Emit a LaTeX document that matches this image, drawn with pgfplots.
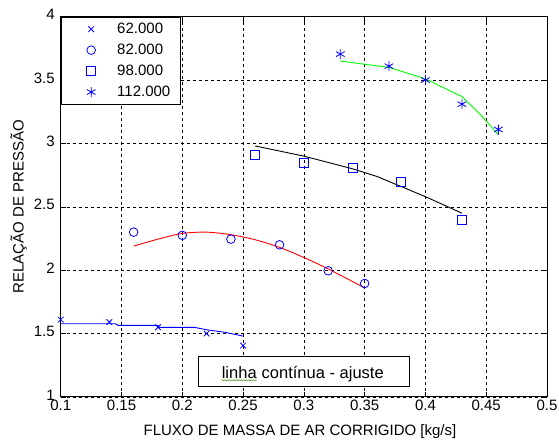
\documentclass[border=0pt]{standalone}
\usepackage{fontspec}
\setmainfont{Liberation Sans}
\usepackage{pgfplots}
\pgfplotsset{compat=1.18}
\usetikzlibrary{decorations.pathmorphing}
\definecolor{mblue}{RGB}{0,0,255}
\definecolor{mgreen}{RGB}{0,255,0}
\definecolor{mred}{RGB}{255,0,0}
\definecolor{squig}{RGB}{100,160,60}
\newcommand\fs{\fontsize{15bp}{17bp}\selectfont}
\begin{document}
\begin{tikzpicture}
\begin{axis}[
  scale only axis, width=486bp, height=380bp,
  xmin=0.1, xmax=0.5, ymin=1, ymax=4,
  xtick={0.1,0.15,0.2,0.25,0.3,0.35,0.4,0.45,0.5},
  xticklabels={0.1,0.15,0.2,0.25,0.3,0.35,0.4,0.45,0.5},
  ytick={1,1.5,2,2.5,3,3.5,4},
  yticklabels={1,1.5,2,2.5,3,3.5,4},
  tick align=inside, major tick length=5bp,
  tick style={black, line width=0.6bp},
  grid=major,
  major grid style={black, line width=0.6bp, dash pattern=on 3bp off 3bp},
  axis line style={line width=0.9bp},
  ticklabel style={font=\fs},
  yticklabel style={xshift=-2.5bp, yshift=2bp},
  /pgf/number format/assume math mode=true,
  xlabel={FLUXO DE MASSA DE AR CORRIGIDO [kg/s]},
  ylabel={RELAÇÃO DE PRESSÃO},
  label style={font=\fs},
  xlabel style={at={([yshift=-39bp]axis description cs:0.492,0)}, anchor=base},
  ylabel style={at={([xshift=-37bp]axis description cs:0,0.5)}, anchor=base},
  legend style={at={(0,1)}, anchor=north west, draw=black, line width=0.9bp,
    fill=white, font=\fs, inner xsep=10bp, inner ysep=6bp,
    row sep=9bp, column sep=6bp, nodes={inner sep=0pt}},
  legend cell align=left,
  legend image code/.code={\path[draw=none,fill=none] (0bp,0bp) -- (40bp,0bp);\draw[mark repeat=2,mark phase=2,#1] plot coordinates {(0bp,0bp)(20bp,0bp)(40bp,0bp)};},
]
% measured points
\addplot[only marks, mark=x, mblue, mark size=4bp, mark options={line width=0.8bp}]
  coordinates {(0.10,1.61) (0.14,1.59) (0.18,1.55) (0.22,1.50) (0.25,1.405)};
\addlegendentry{62.000}
\addplot[only marks, mark=o, mblue, mark size=4.3bp, mark options={line width=0.8bp}]
  coordinates {(0.16,2.30) (0.20,2.275) (0.24,2.245) (0.28,2.20) (0.32,1.995) (0.35,1.895)};
\addlegendentry{82.000}
\addplot[only marks, mark=square, mblue, mark size=4.5bp, mark options={line width=0.8bp}]
  coordinates {(0.26,2.91) (0.30,2.85) (0.34,2.81) (0.38,2.70) (0.43,2.40)};
\addlegendentry{98.000}
\addplot[only marks, mark=asterisk, mblue, mark size=5bp, mark options={line width=0.8bp}]
  coordinates {(0.33,3.705) (0.37,3.61) (0.40,3.50) (0.43,3.31) (0.46,3.11)};
\addlegendentry{112.000}
% fitted curves
\addplot[forget plot, mblue, line width=0.9bp]
  coordinates {(0.10,1.577) (0.145,1.577) (0.147,1.565) (0.18,1.565) (0.181,1.549) (0.21,1.549) (0.22,1.53) (0.235,1.51) (0.25,1.48)};
\addplot[forget plot, mred, line width=0.9bp, smooth]
  coordinates {(0.16,2.19) (0.18,2.245) (0.20,2.29) (0.22,2.30) (0.24,2.28) (0.26,2.24) (0.28,2.18) (0.30,2.10) (0.32,2.01) (0.35,1.86)};
\addplot[forget plot, black, line width=0.9bp]
  coordinates {(0.26,2.98) (0.30,2.90) (0.34,2.80) (0.36,2.74) (0.38,2.66) (0.40,2.58) (0.43,2.45)};
\addplot[forget plot, mgreen, line width=0.9bp]
  coordinates {(0.33,3.65) (0.37,3.60) (0.40,3.51) (0.43,3.37) (0.445,3.23) (0.46,3.07)};
% annotation
\node[draw=black, line width=0.9bp, fill=white, minimum width=211bp, minimum height=30bp, inner sep=0pt] (ann) at (axis cs:0.2998,1.199) {};
\node[anchor=base west, inner sep=0pt, font=\fontsize{16.5bp}{18bp}\selectfont] (w1) at ([xshift=24bp,yshift=-6.6bp]ann.west) {linha};
\node[anchor=base west, inner sep=0pt, font=\fontsize{16.5bp}{18bp}\selectfont] at (w1.base east) {\ contínua - ajuste};
\draw[squig, line width=0.6bp, decorate, decoration={snake, amplitude=0.6bp, segment length=2.4bp}]
  ([yshift=-2bp]w1.base west) -- ([yshift=-2bp]w1.base east);
\coordinate (sw) at (rel axis cs:0,0);
\coordinate (ne) at (rel axis cs:1,1);
\end{axis}
\pgfresetboundingbox
\path ([shift={(-60.7bp,-44.3bp)}]sw) rectangle ([shift={(12bp,16.7bp)}]ne);
\end{tikzpicture}
\end{document}
